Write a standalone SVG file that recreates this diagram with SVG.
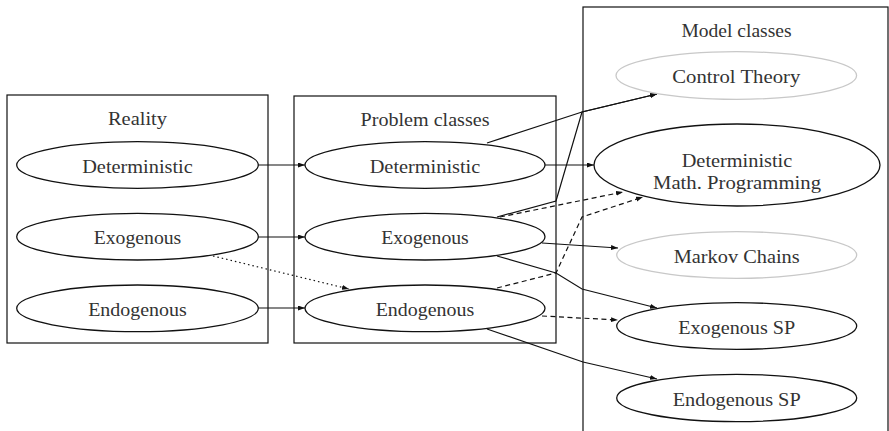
<svg xmlns="http://www.w3.org/2000/svg" width="889" height="431" viewBox="0 0 889 431" font-family="'Liberation Serif', 'Times New Roman', serif">
<defs>
<marker id="arr" markerWidth="8" markerHeight="6" refX="7" refY="2.5" orient="auto" markerUnits="userSpaceOnUse">
<path d="M0,0 L7,2.5 L0,5 z" fill="#111"/>
</marker>
<style>
.box{fill:none;stroke:#111;stroke-width:1.2}
.n{fill:#fff;stroke:#111;stroke-width:1.3}
.g{fill:#fff;stroke:#c8c8c8;stroke-width:1.3}
text{font-family:'Liberation Serif','Times New Roman',serif;font-size:18.8px;fill:#333;text-anchor:middle}
.c{fill:none;stroke:#111;stroke-width:1.2;marker-end:url(#arr)}
.dash{stroke-dasharray:5 3.5}
.dot{stroke-dasharray:1.5 3}
</style>
</defs>
<rect width="889" height="431" fill="#fff"/>
<g id="reality">
<rect class="box" x="7" y="95" width="261" height="248"/>
<text x="137.5" y="125" textLength="59" lengthAdjust="spacingAndGlyphs">Reality</text>
</g>
<g id="problem-classes">
<rect class="box" x="294" y="96" width="262" height="247"/>
<text x="425" y="126" textLength="129" lengthAdjust="spacingAndGlyphs">Problem classes</text>
</g>
<g id="model-classes">
<rect class="box" x="583" y="7" width="305" height="440"/>
<text x="736.5" y="37" textLength="110" lengthAdjust="spacingAndGlyphs">Model classes</text>
</g>
<g id="connectors">
<path class="c" d="M258,165 L305,165"/>
<path class="c" d="M258,237 L305,237"/>
<path class="c" d="M258,308 L305,308"/>
<path class="c dot" d="M213,256 L349,289"/>
<path class="c" d="M487,143 L582,112 L657,94"/>
<path class="c" d="M497,217 L556,201 L582,112 L657,94"/>
<path class="c" d="M545,165 L594,165"/>
<path class="c dash" d="M500,217 L623,192"/>
<path class="c dash" d="M497,288 L556,273 L582,217 L643,197"/>
<path class="c" d="M542,243 L618,248"/>
<path class="c" d="M497,256 L556,273 L582,289 L657,308"/>
<path class="c dash" d="M542,316 L618,320"/>
<path class="c" d="M487,329 L583,362 L657,379"/>
</g>
<g id="r-det">
<ellipse class="n" cx="137.5" cy="165" rx="120.8" ry="23.3"/>
<text x="137.5" y="172.5" textLength="110.6" lengthAdjust="spacingAndGlyphs">Deterministic</text>
</g>
<g id="r-exo">
<ellipse class="n" cx="137.5" cy="236.7" rx="120.8" ry="23.3"/>
<text x="137.5" y="244.2" textLength="87.6" lengthAdjust="spacingAndGlyphs">Exogenous</text>
</g>
<g id="r-endo">
<ellipse class="n" cx="137.5" cy="308.3" rx="120.8" ry="23.3"/>
<text x="137.5" y="315.8" textLength="98.6" lengthAdjust="spacingAndGlyphs">Endogenous</text>
</g>
<g id="p-det">
<ellipse class="n" cx="425" cy="165" rx="120" ry="23.3"/>
<text x="425" y="172.5" textLength="110.6" lengthAdjust="spacingAndGlyphs">Deterministic</text>
</g>
<g id="p-exo">
<ellipse class="n" cx="425" cy="236.7" rx="120" ry="23.3"/>
<text x="425" y="244.2" textLength="87.6" lengthAdjust="spacingAndGlyphs">Exogenous</text>
</g>
<g id="p-endo">
<ellipse class="n" cx="425" cy="308.3" rx="120" ry="23.3"/>
<text x="425" y="315.8" textLength="98.6" lengthAdjust="spacingAndGlyphs">Endogenous</text>
</g>
<g id="m-control">
<ellipse class="g" cx="736.3" cy="75.5" rx="120.3" ry="23.8"/>
<text x="736.3" y="83" textLength="128" lengthAdjust="spacingAndGlyphs">Control Theory</text>
</g>
<g id="m-dmp">
<ellipse class="n" cx="737" cy="165" rx="143" ry="41"/>
<text x="737" y="166.5" textLength="110.6" lengthAdjust="spacingAndGlyphs">Deterministic</text>
<text x="737" y="189" textLength="168" lengthAdjust="spacingAndGlyphs">Math. Programming</text>
</g>
<g id="m-markov">
<ellipse class="g" cx="736.7" cy="255" rx="120" ry="23.3"/>
<text x="736.7" y="262.5" textLength="126" lengthAdjust="spacingAndGlyphs">Markov Chains</text>
</g>
<g id="m-exosp">
<ellipse class="n" cx="736.7" cy="326" rx="120" ry="23.3"/>
<text x="736.7" y="333.5" textLength="117" lengthAdjust="spacingAndGlyphs">Exogenous SP</text>
</g>
<g id="m-endosp">
<ellipse class="n" cx="736.7" cy="398" rx="120" ry="23.7"/>
<text x="736.7" y="405.5" textLength="128" lengthAdjust="spacingAndGlyphs">Endogenous SP</text>
</g>
</svg>
